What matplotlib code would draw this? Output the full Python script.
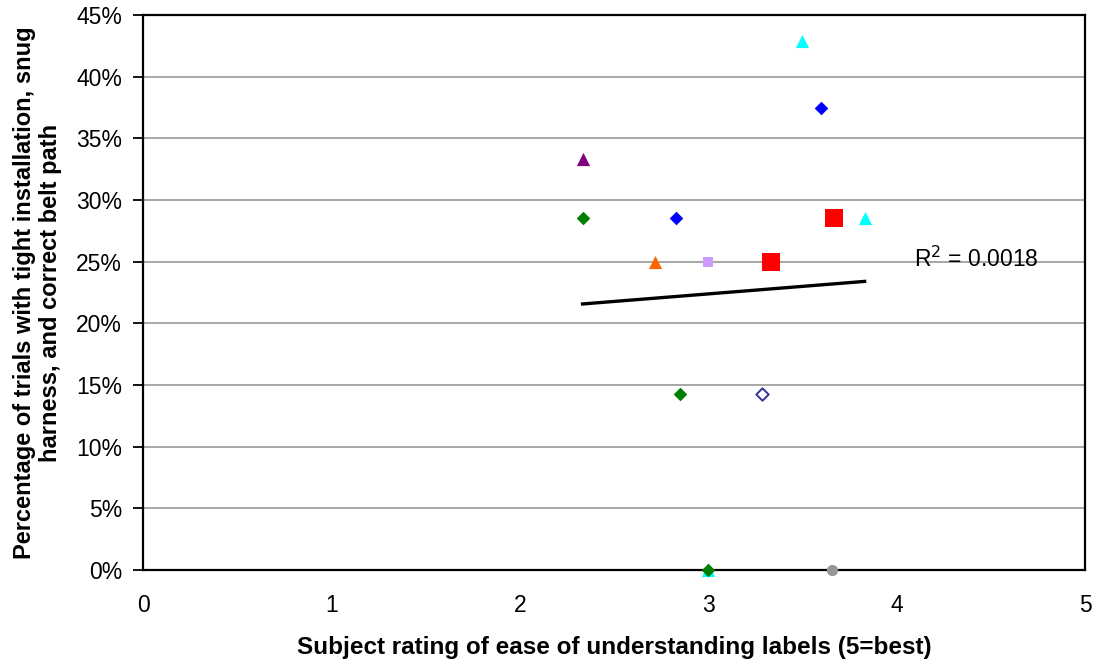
import matplotlib
matplotlib.use('Agg')
import matplotlib.pyplot as plt
from matplotlib.ticker import FuncFormatter
import numpy as np

plt.rcParams['font.family'] = ['Liberation Sans', 'DejaVu Sans']

# Data: (x = subject rating, y = fraction of trials), one list pair per series
blue_x   = [2.83, 3.60]
blue_y   = [0.2857, 0.375]
green_x  = [2.333, 2.85, 3.0]
green_y  = [0.2857, 0.1429, 0.0]
purple_x = [2.333]
purple_y = [0.3333]
cyan_x   = [3.50, 3.83, 3.0]
cyan_y   = [0.4286, 0.2857, 0.0]
red_x    = [3.333, 3.667]
red_y    = [0.25, 0.2857]
orange_x = [2.715]
orange_y = [0.25]
lav_x    = [3.0]
lav_y    = [0.25]
navy_x   = [3.283]
navy_y   = [0.1429]
gray_x   = [3.655]
gray_y   = [0.0]

# linear trendline (ends at min / max rating)
trend_x = [2.333, 3.83]
trend_y = [0.2157, 0.2340]
r2_text = 'R$^2$ = 0.0018'

fig = plt.figure(figsize=(10.95, 6.65), dpi=100)
ax = fig.add_axes([0.1306, 0.1429, 0.8603, 0.8345])

# gridlines
ax.set_axisbelow(True)
ax.yaxis.grid(True, color='#a0a0a0', linewidth=1.3)

ax.plot(trend_x, trend_y, color='black', linewidth=2.4, zorder=2)

# cyan hidden under green at (3,0) is drawn first
ax.scatter(cyan_x, cyan_y, marker='^', s=90, color='#00ffff', zorder=3, linewidths=0, clip_on=False)
ax.scatter(blue_x, blue_y, marker='D', s=48, color='#0000ff', zorder=4, linewidths=0)
ax.scatter(green_x, green_y, marker='D', s=48, color='#008000', zorder=4, linewidths=0, clip_on=False)
ax.scatter(purple_x, purple_y, marker='^', s=90, color='#800080', zorder=4, linewidths=0)
ax.scatter(red_x, red_y, marker='s', s=150, color='#ff0000', zorder=4, linewidths=0)
ax.scatter(orange_x, orange_y, marker='^', s=90, color='#ff6600', zorder=4, linewidths=0)
ax.scatter(lav_x, lav_y, marker='s', s=62, color='#cc99ff', zorder=4, linewidths=0)
ax.scatter(navy_x, navy_y, marker='D', s=40, facecolors='white',
           edgecolors='#333399', linewidths=1.4, zorder=4)
ax.scatter(gray_x, gray_y, marker='o', s=65, color='#969696', zorder=4, linewidths=0, clip_on=False)

ax.text(4.09, 0.2415, r2_text, fontsize=16.5, ha='left', va='bottom', zorder=5)

ax.set_xlim(0, 5)
ax.set_ylim(0, 0.45)
ax.set_xticks(range(6))
ax.set_yticks(np.arange(0, 0.451, 0.05))
ax.yaxis.set_major_formatter(FuncFormatter(lambda v, p: f'{v*100:.0f}%'))
ax.tick_params(axis='x', length=0, pad=17, labelsize=16.5)
ax.tick_params(axis='y', length=7, width=1.3, direction='out', labelsize=16.5, pad=8)

for side in ['left', 'bottom', 'top', 'right']:
    ax.spines[side].set_linewidth(1.6)
    ax.spines[side].set_color('black')
    ax.spines[side].set_zorder(3.5)

ax.set_xlabel('Subject rating of ease of understanding labels (5=best)',
              fontsize=17.5, fontweight='bold', labelpad=14)
ax.set_ylabel('Percentage of trials with tight installation, snug\nharness, and correct belt path',
              fontsize=17, fontweight='bold', labelpad=10, linespacing=1.2)

fig.savefig('out.png', dpi=100)
